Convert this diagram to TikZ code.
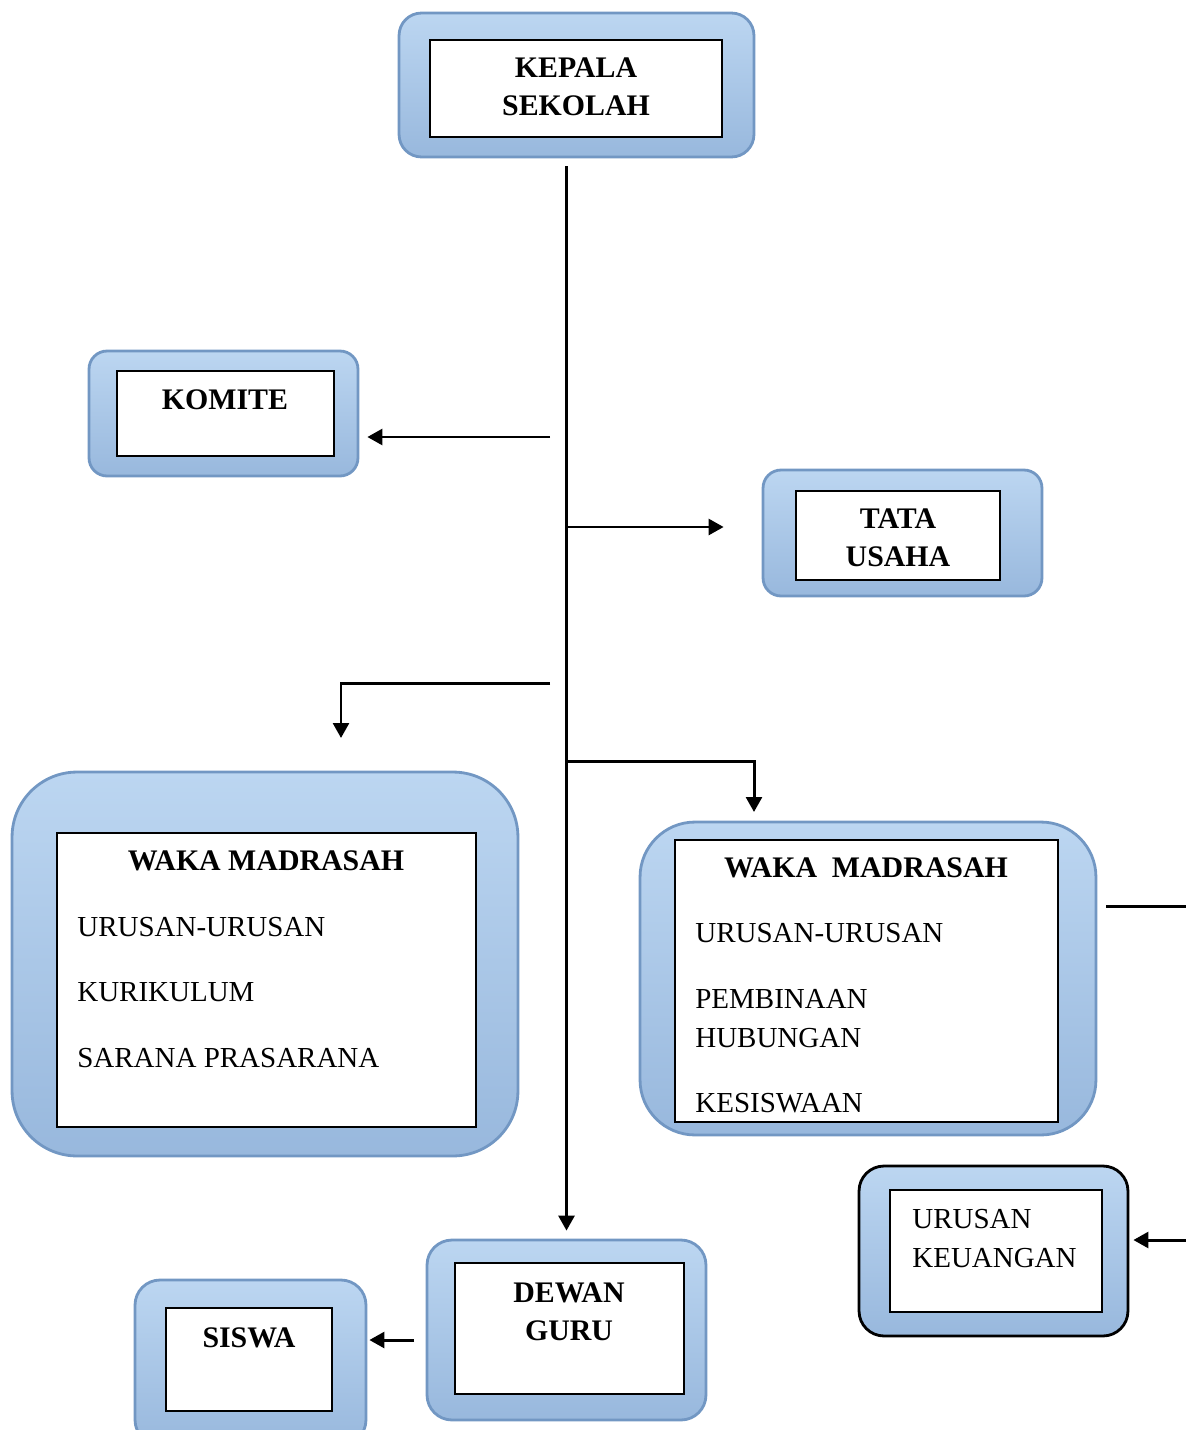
\documentclass[tikz,border=0pt]{standalone}
\usepackage{fontspec}
\setmainfont{Liberation Serif}
\usetikzlibrary{arrows.meta}
\definecolor{boxtop}{HTML}{BCD6F1}
\definecolor{boxbottom}{HTML}{98B8DD}
\definecolor{boxrim}{HTML}{7297C3}

\begin{document}
\begin{tikzpicture}[x=0.02cm,y=-0.02cm]

	\tikzstyle outer box=[draw=boxrim, line width=1.6pt, top color=boxtop, bottom color=boxbottom, rounded corners=0.45cm, inner sep=0pt];
	\tikzstyle inner box=[draw=black, line width=1pt, fill=white, inner sep=0pt];
	\tikzstyle title text=[font=\fontsize{17}{21.5}\selectfont\bfseries, align=center, inner sep=0pt];
	\tikzstyle item text=[font=\fontsize{16.5}{22}\selectfont, anchor=base west, inner sep=0pt];
	\tikzstyle link lines=[line width=1.7pt];
	\tikzstyle arrow lines=[link lines, -{Triangle[length=8.5pt,width=9pt]}];

	\clip (0,0) rectangle (1186,1430);

	% kepala sekolah
	\node[outer box, minimum width=7.1cm, minimum height=2.88cm] (kepalaOuter) at (576.5,85) {};
	\node[inner box, minimum width=5.84cm, minimum height=1.94cm] (kepalaInner) at (576,88.5) {};
	\node[title text] (kepala) at (576,86.5) {KEPALA\\SEKOLAH};

	% komite
	\node[outer box, minimum width=5.38cm, minimum height=2.5cm, rounded corners=0.36cm] (komiteOuter) at (223.5,413.5) {};
	\node[inner box, minimum width=4.34cm, minimum height=1.7cm] (komiteInner) at (225.5,413.5) {};
	\node[title text] (komite) at (225,399.5) {KOMITE};

	% tata usaha
	\node[outer box, minimum width=5.58cm, minimum height=2.52cm, rounded corners=0.36cm] (tataOuter) at (902.5,533) {};
	\node[inner box, minimum width=4.08cm, minimum height=1.78cm] (tataInner) at (898,535.5) {};
	\node[title text] (tata) at (898,538) {TATA\\USAHA};

	% waka kiri
	\node[outer box, minimum width=10.12cm, minimum height=7.68cm, rounded corners=1.3cm] (wakaLOuter) at (265,964) {};
	\node[inner box, minimum width=8.38cm, minimum height=5.88cm] (wakaLInner) at (266.5,980) {};
	\node[title text] (wakaL) at (266,861) {WAKA MADRASAH};
		\foreach \y/\txt [count=\i] in {936/URUSAN-URUSAN,1001/KURIKULUM,1067/SARANA PRASARANA}
			\node[item text] (wakaLitem\i) at (77,\y) {\txt};

	% waka kanan
	\node[outer box, minimum width=9.12cm, minimum height=6.26cm, rounded corners=1.1cm] (wakaROuter) at (868,978.5) {};
	\node[inner box, minimum width=7.66cm, minimum height=5.64cm] (wakaRInner) at (866.5,981) {};
	\node[title text] (wakaR) at (866,868) {WAKA~~MADRASAH};
		\foreach \y/\txt [count=\i] in {942/URUSAN-URUSAN,1008/PEMBINAAN,1047/HUBUNGAN,1112/KESISWAAN}
			\node[item text] (wakaRitem\i) at (695,\y) {\txt};

	% urusan keuangan
	\node[outer box, draw=black, minimum width=5.38cm, minimum height=3.4cm, rounded corners=0.5cm] (keuOuter) at (993.5,1251) {};
	\node[inner box, minimum width=4.24cm, minimum height=2.44cm] (keuInner) at (996,1251) {};
		\foreach \y/\txt [count=\i] in {1228/URUSAN,1267/KEUANGAN}
			\node[item text] (keuitem\i) at (912,\y) {\txt};

	% dewan guru
	\node[outer box, minimum width=5.58cm, minimum height=3.6cm, rounded corners=0.5cm] (dewanOuter) at (566.5,1330) {};
	\node[inner box, minimum width=4.58cm, minimum height=2.62cm] (dewanInner) at (569.5,1328.5) {};
	\node[title text] (dewan) at (569,1311.5) {DEWAN\\GURU};

	% siswa
	\node[outer box, minimum width=4.62cm, minimum height=3.3cm, rounded corners=0.5cm] (siswaOuter) at (250.5,1362.5) {};
	\node[inner box, minimum width=3.32cm, minimum height=2.06cm] (siswaInner) at (249,1359.5) {};
	\node[title text] (siswa) at (249,1338) {SISWA};

	% garis penghubung
	\draw[arrow lines, shorten <=0.16cm, shorten >=0.16cm] (dewanOuter.north |- kepalaOuter.south) -- (dewanOuter.north);

	\coordinate (komiteFrom) at (550,437);
	\draw[arrow lines, shorten >=0.16cm] (komiteFrom) -- (komiteOuter.east |- komiteFrom);

	\coordinate (tataFrom) at (566.5,527);
	\draw[arrow lines, shorten >=0.76cm] (tataFrom) -- (tataFrom -| tataOuter.west);

	\coordinate (wakaLFrom) at (550,683);
	\coordinate (wakaLTo) at (341,738);
	\draw[arrow lines] (wakaLFrom) -| (wakaLTo);

	\coordinate (wakaRFrom) at (566.5,761);
	\coordinate (wakaRTo) at (754,812);
	\draw[arrow lines] (wakaRFrom) -| (wakaRTo);

	\coordinate (sideTo) at (1186,906);
	\draw[link lines, shorten <=0.18cm] (wakaROuter.east |- sideTo) -- (sideTo);

	\coordinate (keuFrom) at (1186,1240);
	\draw[arrow lines, shorten >=0.08cm] (keuFrom) -- (keuOuter.east |- keuFrom);

	\coordinate (siswaFrom) at (414,1340);
	\draw[arrow lines, shorten >=0.04cm] (siswaFrom) -- (siswaOuter.east |- siswaFrom);

\end{tikzpicture}
\end{document}
